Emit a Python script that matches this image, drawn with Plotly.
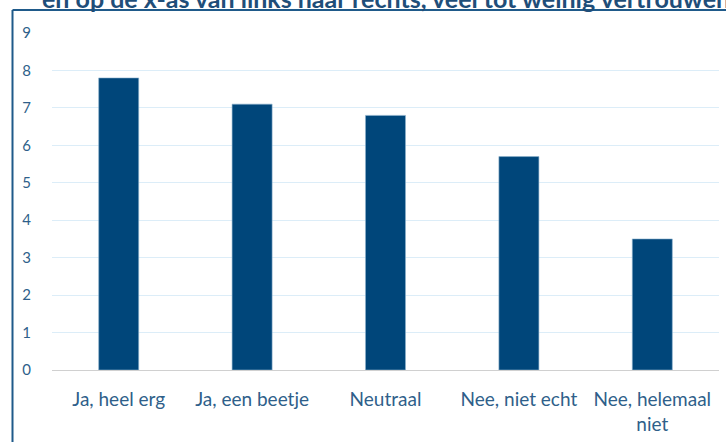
import plotly.graph_objects as go

categories = ["Ja, heel erg", "Ja, een beetje", "Neutraal", "Nee, niet echt", "Nee, helemaal<br>niet"]
values = [7.8, 7.1, 6.8, 5.7, 3.5]
y_ticks = [0, 1, 2, 3, 4, 5, 6, 7, 8, 9]
title_text = "en op de x-as van links naar rechts, veel tot weinig vertrouwen"

W, H = 726, 442
L, R, T, B = 52, 7, 33, 72
pw, ph = W - L - R, H - T - B

def px(x):
    return (x - L) / pw

def py(y):
    return 1 - (y - T) / ph

fig = go.Figure()
fig.add_trace(go.Bar(
    x=categories, y=values, width=0.3,
    marker=dict(color="#00467a", line=dict(color="#8fb3cf", width=0.6)),
))

border = "#1f5a8a"
fig.add_shape(type="line", xref="paper", yref="paper",
              x0=px(12.5), x1=px(760), y0=py(10), y1=py(10),
              line=dict(color=border, width=2))
fig.add_shape(type="line", xref="paper", yref="paper",
              x0=px(12.5), x1=px(12.5), y0=py(10), y1=py(480),
              line=dict(color=border, width=2))

fig.add_annotation(text="<b>" + title_text + "</b>", xref="paper", yref="paper",
                   x=px(40), y=py(15), xanchor="left", yanchor="bottom",
                   showarrow=False, font=dict(family="Lato", size=25, color="#1f4e79"))

fig.update_layout(
    width=W, height=H,
    margin=dict(l=L, r=R, t=T, b=B, autoexpand=False),
    paper_bgcolor="white", plot_bgcolor="white",
    showlegend=False,
    font=dict(family="Lato", size=15, color="#2f5f8a"),
)
fig.update_xaxes(showgrid=False, showline=False, ticks="", ticklabelstandoff=16,
                 tickfont=dict(size=19, color="#2f5f8a"), automargin=False)
fig.update_yaxes(range=[0, 9], tickvals=y_ticks, showgrid=True, gridcolor="#dcedf8",
                 gridwidth=1, zeroline=True, zerolinecolor="#d0d0d0", zerolinewidth=1,
                 ticks="", ticklabelstandoff=20, tickfont=dict(size=15, color="#2f5f8a"),
                 fixedrange=True, automargin=False)

fig.write_html("out.html", config={"displayModeBar": False},
               post_script="document.body.style.margin='0';document.body.style.overflow='hidden';")
